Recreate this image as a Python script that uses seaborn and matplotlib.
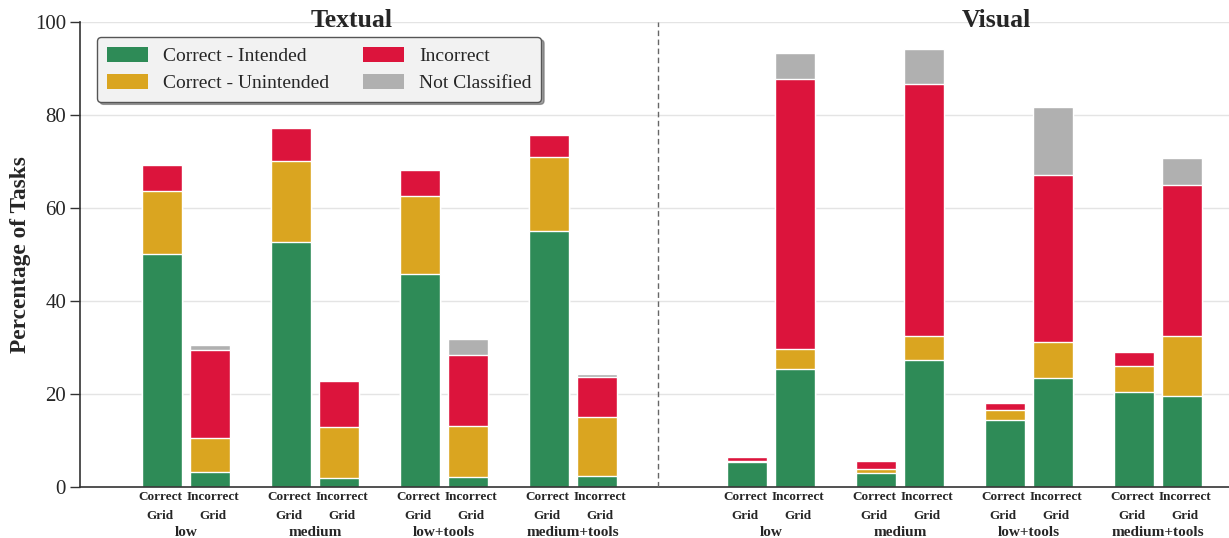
import numpy as np
import pandas as pd
import matplotlib
matplotlib.use("Agg")
import matplotlib.pyplot as plt
import matplotlib.transforms as mtransforms
from matplotlib.patches import Patch
import seaborn as sns

# ---------------- data ----------------
groups = ["low", "medium", "low+tools", "medium+tools"]
bar_labels = ["Correct\nGrid", "Incorrect\nGrid"]
categories = ["Correct - Intended", "Correct - Unintended", "Incorrect", "Not Classified"]

# order per panel: [CG low, IG low, CG medium, IG medium, CG low+tools, IG low+tools, CG medium+tools, IG medium+tools]
textual_intended   = [50.2, 3.3, 52.7, 1.9, 45.9, 2.1, 55.0, 2.4]
textual_unintended = [13.4, 7.3, 17.4, 11.1, 16.7, 11.0, 15.9, 12.7]
textual_incorrect  = [5.7, 18.8, 7.0, 9.7, 5.5, 15.2, 4.7, 8.6]
textual_notclass   = [0.0, 1.2, 0.0, 0.0, 0.0, 3.6, 0.0, 0.6]

visual_intended   = [5.3, 25.4, 3.1, 27.4, 14.5, 23.4, 20.5, 19.5]
visual_unintended = [0.3, 4.3, 0.7, 5.1, 2.0, 7.8, 5.5, 13.0]
visual_incorrect  = [0.9, 58.0, 1.8, 54.2, 1.6, 35.8, 3.1, 32.5]
visual_notclass   = [0.0, 5.7, 0.0, 7.6, 0.0, 14.8, 0.0, 5.7]

panel_titles = ["Textual", "Visual"]

colors = ["#2E8B57", "#DAA520", "#DC143C", "#B0B0B0"]

# ---------------- layout ----------------
group_centers = [0.0, 1.0, 2.0, 3.0, 4.535, 5.535, 6.535, 7.535]
offset = 0.188
bar_w = 0.31

xs = []
for c in group_centers:
    xs += [c - offset, c + offset]

intended = textual_intended + visual_intended
unintended = textual_unintended + visual_unintended
incorrect = textual_incorrect + visual_incorrect
notclass = textual_notclass + visual_notclass

df = pd.DataFrame({
    "x": xs,
    categories[0]: intended,
    categories[1]: unintended,
    categories[2]: incorrect,
    categories[3]: notclass,
})
cum = df[categories].cumsum(axis=1)

sns.set_theme(style="white")
plt.rcParams["font.family"] = ["Liberation Serif", "DejaVu Serif"]

fig = plt.figure(figsize=(12.29, 5.38), dpi=100)
ax = fig.add_axes([80 / 1229, 51 / 538, 1149 / 1229, 465 / 538])

# horizontal grid
for yv in [20, 40, 60, 80, 100]:
    ax.axhline(yv, color="#e4e4e4", lw=1.0, zorder=0)

# stacked bars: draw cumulative tops from the highest layer down
for i in range(3, -1, -1):
    ax.bar(df["x"], cum[categories[i]], width=bar_w, color=colors[i],
           edgecolor="white", linewidth=1.0, zorder=2)

ax.set_xlim((80 - 186) / 129, (1229 - 186) / 129)
ax.set_ylim(0, 100)

# divider
ax.axvline(3.66, color="#666666", ls=(0, (4, 2.5)), lw=1.0, zorder=3)

# ticks
ax.set_yticks([0, 20, 40, 60, 80, 100])
ax.tick_params(axis="y", which="major", length=7, width=1.0, color="#333333",
               labelsize=15, pad=3, left=True, direction="out")
ax.set_xticks(xs)
ax.set_xticklabels(bar_labels * 8, fontsize=9.5, fontweight="bold", linespacing=1.75)
ax.tick_params(axis="x", length=0, pad=3)
for i, lbl in enumerate(ax.get_xticklabels()):
    dx = -1.5 if i % 2 == 0 else 3.0
    lbl.set_transform(lbl.get_transform() +
                      mtransforms.ScaledTranslation(dx / 100, 0, fig.dpi_scale_trans))

for c, g in zip(group_centers, groups * 2):
    ax.text(c, -0.105, g, transform=ax.get_xaxis_transform(), ha="center",
            va="baseline", fontsize=11, fontweight="bold")

# panel titles
ax.text(1.287, 98.9, panel_titles[0], ha="center", va="baseline",
        fontsize=18.5, fontweight="bold")
ax.text(6.28, 98.9, panel_titles[1], ha="center", va="baseline",
        fontsize=18.5, fontweight="bold")

ax.set_ylabel("Percentage of Tasks", fontsize=16.8, fontweight="bold")
ax.yaxis.set_label_coords(-0.043, 0.5)

sns.despine(ax=ax, top=True, right=True)
for s in ["left", "bottom"]:
    ax.spines[s].set_color("#333333")
    ax.spines[s].set_linewidth(1.2)

handles = [Patch(facecolor=colors[i], edgecolor="none", label=categories[i]) for i in range(4)]
leg = ax.legend(handles=handles, ncol=2, loc="upper left",
                bbox_to_anchor=((97 - 80) / 1149, (487 - 37) / 465),
                borderaxespad=0, fontsize=14, frameon=True, fancybox=True,
                shadow=True, facecolor="#f2f2f2", edgecolor="#555555",
                framealpha=1, handlelength=2.1, handleheight=0.8,
                handletextpad=0.8, columnspacing=1.72, labelspacing=0.45,
                borderpad=0.5)
leg.get_frame().set_linewidth(1.0)

fig.savefig("out.png", dpi=100)
